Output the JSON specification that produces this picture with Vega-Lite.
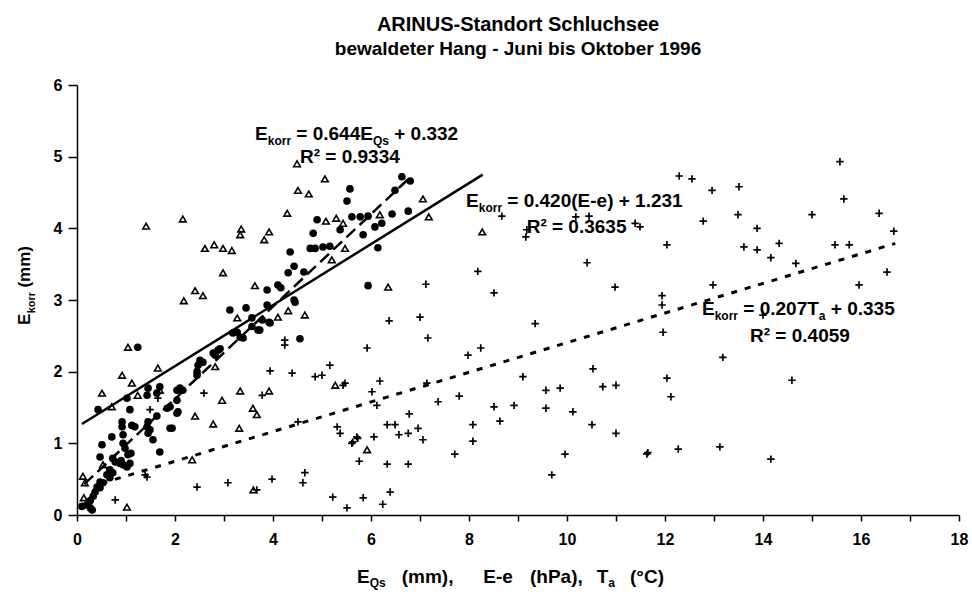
{
  "$schema": "https://vega.github.io/schema/vega-lite/v6.json",
  "width": 882,
  "height": 430,
  "autosize": {"type": "none"},
  "padding": {"left": 77, "top": 85, "right": 13, "bottom": 77},
  "background": "white",
  "config": {"view": {"stroke": null}},
  "title": {
    "text": "ARINUS-Standort Schluchsee",
    "subtitle": "bewaldeter Hang - Juni bis Oktober 1996",
    "font": "Liberation Sans",
    "fontSize": 20,
    "fontWeight": "bold",
    "color": "black",
    "subtitleFont": "Liberation Sans",
    "subtitleFontSize": 19,
    "subtitleFontWeight": "bold",
    "subtitleColor": "black",
    "subtitlePadding": 5,
    "anchor": "middle",
    "offset": 18
  },
  "datasets": {
    "points": [
      {"s":"EQs","x":0.10,"y":0.12},{"s":"EQs","x":0.20,"y":0.14},{"s":"EQs","x":0.27,"y":0.10},{"s":"EQs","x":0.27,"y":0.20},{"s":"EQs","x":0.31,"y":0.07},{"s":"EQs","x":0.33,"y":0.26},{"s":"EQs","x":0.37,"y":0.32},{"s":"EQs","x":0.41,"y":0.39},{"s":"EQs","x":0.47,"y":0.38},{"s":"EQs","x":0.47,"y":0.46},{"s":"EQs","x":0.53,"y":0.45},{"s":"EQs","x":0.61,"y":0.56},{"s":"EQs","x":0.67,"y":0.52},{"s":"EQs","x":0.67,"y":0.63},{"s":"EQs","x":0.73,"y":0.59},{"s":"EQs","x":0.73,"y":0.79},{"s":"EQs","x":0.78,"y":0.74},{"s":"EQs","x":0.88,"y":0.72},{"s":"EQs","x":0.90,"y":0.76},{"s":"EQs","x":0.94,"y":0.70},{"s":"EQs","x":1.02,"y":0.67},{"s":"EQs","x":1.04,"y":0.84},{"s":"EQs","x":1.08,"y":0.72},{"s":"EQs","x":0.47,"y":0.81},{"s":"EQs","x":0.51,"y":0.98},{"s":"EQs","x":0.94,"y":1.00},{"s":"EQs","x":0.98,"y":0.93},{"s":"EQs","x":1.10,"y":0.86},{"s":"EQs","x":0.71,"y":1.09},{"s":"EQs","x":0.92,"y":1.23},{"s":"EQs","x":0.94,"y":1.12},{"s":"EQs","x":0.92,"y":1.30},{"s":"EQs","x":1.18,"y":1.23},{"s":"EQs","x":1.12,"y":1.25},{"s":"EQs","x":1.43,"y":1.23},{"s":"EQs","x":1.45,"y":1.14},{"s":"EQs","x":1.49,"y":1.19},{"s":"EQs","x":1.45,"y":1.30},{"s":"EQs","x":1.55,"y":1.05},{"s":"EQs","x":1.69,"y":0.88},{"s":"EQs","x":1.63,"y":1.38},{"s":"EQs","x":1.90,"y":1.21},{"s":"EQs","x":1.94,"y":1.21},{"s":"EQs","x":1.84,"y":1.49},{"s":"EQs","x":1.90,"y":1.51},{"s":"EQs","x":2.04,"y":1.42},{"s":"EQs","x":2.06,"y":1.44},{"s":"EQs","x":1.08,"y":1.47},{"s":"EQs","x":0.43,"y":1.47},{"s":"EQs","x":1.02,"y":1.63},{"s":"EQs","x":1.43,"y":1.67},{"s":"EQs","x":1.45,"y":1.77},{"s":"EQs","x":1.63,"y":1.70},{"s":"EQs","x":1.69,"y":1.79},{"s":"EQs","x":2.04,"y":1.74},{"s":"EQs","x":2.10,"y":1.77},{"s":"EQs","x":2.16,"y":1.74},{"s":"EQs","x":2.04,"y":1.60},{"s":"EQs","x":1.24,"y":2.34},{"s":"EQs","x":2.45,"y":1.95},{"s":"EQs","x":2.47,"y":2.09},{"s":"EQs","x":2.57,"y":2.13},{"s":"EQs","x":2.51,"y":2.16},{"s":"EQs","x":2.45,"y":2.00},{"s":"EQs","x":2.78,"y":2.26},{"s":"EQs","x":2.82,"y":2.23},{"s":"EQs","x":2.88,"y":2.30},{"s":"EQs","x":2.92,"y":2.32},{"s":"EQs","x":3.18,"y":2.54},{"s":"EQs","x":3.27,"y":2.55},{"s":"EQs","x":3.33,"y":2.48},{"s":"EQs","x":3.39,"y":2.47},{"s":"EQs","x":3.57,"y":2.63},{"s":"EQs","x":3.69,"y":2.58},{"s":"EQs","x":3.73,"y":2.58},{"s":"EQs","x":3.94,"y":2.68},{"s":"EQs","x":3.78,"y":2.72},{"s":"EQs","x":3.92,"y":2.69},{"s":"EQs","x":3.57,"y":2.75},{"s":"EQs","x":3.12,"y":2.86},{"s":"EQs","x":3.45,"y":2.89},{"s":"EQs","x":3.88,"y":2.93},{"s":"EQs","x":4.45,"y":2.97},{"s":"EQs","x":4.43,"y":3.00},{"s":"EQs","x":3.88,"y":3.14},{"s":"EQs","x":4.10,"y":3.21},{"s":"EQs","x":4.16,"y":3.17},{"s":"EQs","x":4.55,"y":2.46},{"s":"EQs","x":4.31,"y":3.38},{"s":"EQs","x":4.63,"y":3.39},{"s":"EQs","x":4.43,"y":3.47},{"s":"EQs","x":4.35,"y":3.67},{"s":"EQs","x":4.76,"y":3.72},{"s":"EQs","x":4.86,"y":3.72},{"s":"EQs","x":5.02,"y":3.74},{"s":"EQs","x":5.16,"y":3.75},{"s":"EQs","x":4.82,"y":3.93},{"s":"EQs","x":4.90,"y":4.12},{"s":"EQs","x":5.37,"y":3.98},{"s":"EQs","x":5.51,"y":4.38},{"s":"EQs","x":5.57,"y":4.55},{"s":"EQs","x":5.61,"y":4.16},{"s":"EQs","x":5.78,"y":4.16},{"s":"EQs","x":5.94,"y":4.17},{"s":"EQs","x":5.84,"y":3.91},{"s":"EQs","x":5.94,"y":3.20},{"s":"EQs","x":6.08,"y":4.02},{"s":"EQs","x":6.22,"y":4.07},{"s":"EQs","x":6.14,"y":3.73},{"s":"EQs","x":6.43,"y":4.20},{"s":"EQs","x":6.49,"y":4.53},{"s":"EQs","x":6.76,"y":4.24},{"s":"EQs","x":6.63,"y":4.72},{"s":"EQs","x":6.80,"y":4.66},
      {"s":"Ee","x":0.12,"y":0.54},{"s":"Ee","x":0.16,"y":0.45},{"s":"Ee","x":0.14,"y":0.24},{"s":"Ee","x":0.53,"y":0.70},{"s":"Ee","x":1.02,"y":0.11},{"s":"Ee","x":0.51,"y":1.70},{"s":"Ee","x":0.71,"y":1.51},{"s":"Ee","x":0.92,"y":1.95},{"s":"Ee","x":1.12,"y":1.84},{"s":"Ee","x":1.24,"y":1.67},{"s":"Ee","x":1.69,"y":1.74},{"s":"Ee","x":1.65,"y":2.05},{"s":"Ee","x":1.04,"y":2.34},{"s":"Ee","x":2.35,"y":0.77},{"s":"Ee","x":2.41,"y":1.38},{"s":"Ee","x":2.78,"y":1.27},{"s":"Ee","x":2.96,"y":1.60},{"s":"Ee","x":3.31,"y":1.21},{"s":"Ee","x":3.33,"y":1.73},{"s":"Ee","x":3.59,"y":1.49},{"s":"Ee","x":3.67,"y":1.40},{"s":"Ee","x":3.92,"y":1.73},{"s":"Ee","x":2.82,"y":2.07},{"s":"Ee","x":3.27,"y":2.75},{"s":"Ee","x":4.10,"y":2.76},{"s":"Ee","x":4.31,"y":2.85},{"s":"Ee","x":4.65,"y":2.79},{"s":"Ee","x":5.27,"y":1.81},{"s":"Ee","x":2.18,"y":2.99},{"s":"Ee","x":2.41,"y":3.13},{"s":"Ee","x":2.57,"y":3.06},{"s":"Ee","x":3.63,"y":3.20},{"s":"Ee","x":2.98,"y":3.38},{"s":"Ee","x":2.61,"y":3.72},{"s":"Ee","x":2.80,"y":3.77},{"s":"Ee","x":2.98,"y":3.72},{"s":"Ee","x":3.16,"y":3.69},{"s":"Ee","x":3.35,"y":3.99},{"s":"Ee","x":3.33,"y":3.91},{"s":"Ee","x":3.92,"y":3.95},{"s":"Ee","x":3.82,"y":3.84},{"s":"Ee","x":1.41,"y":4.03},{"s":"Ee","x":2.16,"y":4.13},{"s":"Ee","x":4.29,"y":4.21},{"s":"Ee","x":4.49,"y":4.90},{"s":"Ee","x":4.51,"y":4.53},{"s":"Ee","x":4.73,"y":4.48},{"s":"Ee","x":5.06,"y":4.69},{"s":"Ee","x":5.08,"y":4.10},{"s":"Ee","x":5.29,"y":4.14},{"s":"Ee","x":5.47,"y":3.72},{"s":"Ee","x":5.20,"y":3.56},{"s":"Ee","x":5.43,"y":4.07},{"s":"Ee","x":6.18,"y":4.19},{"s":"Ee","x":7.06,"y":4.41},{"s":"Ee","x":7.18,"y":4.16},{"s":"Ee","x":8.27,"y":3.95},{"s":"Ee","x":6.35,"y":3.18},{"s":"Ee","x":5.92,"y":0.91},{"s":"Ee","x":3.60,"y":0.35},
      {"s":"Ta","x":0.78,"y":0.21},{"s":"Ta","x":1.39,"y":0.56},{"s":"Ta","x":1.43,"y":0.53},{"s":"Ta","x":1.49,"y":1.47},{"s":"Ta","x":1.65,"y":1.63},{"s":"Ta","x":2.59,"y":1.70},{"s":"Ta","x":2.45,"y":0.39},{"s":"Ta","x":3.08,"y":0.45},{"s":"Ta","x":3.67,"y":0.35},{"s":"Ta","x":3.98,"y":0.50},{"s":"Ta","x":4.65,"y":0.59},{"s":"Ta","x":4.61,"y":0.45},{"s":"Ta","x":5.22,"y":0.25},{"s":"Ta","x":5.51,"y":0.10},{"s":"Ta","x":3.78,"y":1.67},{"s":"Ta","x":3.94,"y":2.01},{"s":"Ta","x":4.24,"y":2.44},{"s":"Ta","x":4.24,"y":2.37},{"s":"Ta","x":4.39,"y":1.98},{"s":"Ta","x":4.86,"y":1.93},{"s":"Ta","x":5.00,"y":1.95},{"s":"Ta","x":5.16,"y":2.09},{"s":"Ta","x":5.43,"y":1.81},{"s":"Ta","x":4.51,"y":1.30},{"s":"Ta","x":5.31,"y":1.23},{"s":"Ta","x":5.37,"y":1.14},{"s":"Ta","x":5.61,"y":1.00},{"s":"Ta","x":5.71,"y":1.09},{"s":"Ta","x":5.47,"y":1.84},{"s":"Ta","x":6.18,"y":1.87},{"s":"Ta","x":6.02,"y":1.72},{"s":"Ta","x":6.12,"y":1.53},{"s":"Ta","x":7.37,"y":1.58},{"s":"Ta","x":7.80,"y":1.66},{"s":"Ta","x":7.14,"y":1.84},{"s":"Ta","x":6.78,"y":1.41},{"s":"Ta","x":6.33,"y":1.26},{"s":"Ta","x":6.49,"y":1.26},{"s":"Ta","x":6.57,"y":1.12},{"s":"Ta","x":6.76,"y":1.14},{"s":"Ta","x":6.96,"y":1.21},{"s":"Ta","x":7.06,"y":1.05},{"s":"Ta","x":6.06,"y":1.09},{"s":"Ta","x":5.63,"y":1.02},{"s":"Ta","x":5.73,"y":1.07},{"s":"Ta","x":5.76,"y":0.75},{"s":"Ta","x":6.33,"y":0.71},{"s":"Ta","x":6.76,"y":0.71},{"s":"Ta","x":7.71,"y":0.85},{"s":"Ta","x":8.08,"y":1.26},{"s":"Ta","x":8.08,"y":1.03},{"s":"Ta","x":8.51,"y":1.51},{"s":"Ta","x":8.63,"y":1.31},{"s":"Ta","x":8.92,"y":1.53},{"s":"Ta","x":9.10,"y":1.93},{"s":"Ta","x":9.35,"y":2.67},{"s":"Ta","x":9.57,"y":1.74},{"s":"Ta","x":9.86,"y":1.77},{"s":"Ta","x":9.57,"y":1.49},{"s":"Ta","x":10.12,"y":1.44},{"s":"Ta","x":10.51,"y":1.26},{"s":"Ta","x":10.53,"y":2.04},{"s":"Ta","x":10.73,"y":1.79},{"s":"Ta","x":11.00,"y":1.81},{"s":"Ta","x":11.00,"y":1.14},{"s":"Ta","x":9.96,"y":0.85},{"s":"Ta","x":9.69,"y":0.56},{"s":"Ta","x":11.63,"y":0.85},{"s":"Ta","x":10.41,"y":3.52},{"s":"Ta","x":10.98,"y":3.18},{"s":"Ta","x":6.39,"y":0.32},{"s":"Ta","x":6.24,"y":0.15},{"s":"Ta","x":5.84,"y":0.24},{"s":"Ta","x":8.67,"y":4.17},{"s":"Ta","x":8.18,"y":3.40},{"s":"Ta","x":8.51,"y":3.10},{"s":"Ta","x":7.12,"y":3.22},{"s":"Ta","x":6.37,"y":2.71},{"s":"Ta","x":7.00,"y":2.76},{"s":"Ta","x":7.16,"y":2.47},{"s":"Ta","x":5.92,"y":2.33},{"s":"Ta","x":7.98,"y":2.23},{"s":"Ta","x":8.24,"y":2.33},{"s":"Ta","x":10.18,"y":4.16},{"s":"Ta","x":10.45,"y":4.17},{"s":"Ta","x":11.39,"y":4.07},{"s":"Ta","x":9.18,"y":3.98},{"s":"Ta","x":9.16,"y":3.88},{"s":"Ta","x":11.49,"y":4.02},{"s":"Ta","x":12.29,"y":4.73},{"s":"Ta","x":12.55,"y":4.69},{"s":"Ta","x":12.96,"y":4.53},{"s":"Ta","x":13.51,"y":4.58},{"s":"Ta","x":15.57,"y":4.93},{"s":"Ta","x":12.78,"y":4.10},{"s":"Ta","x":13.49,"y":4.19},{"s":"Ta","x":13.88,"y":4.00},{"s":"Ta","x":12.04,"y":3.77},{"s":"Ta","x":13.61,"y":3.74},{"s":"Ta","x":13.88,"y":3.70},{"s":"Ta","x":14.16,"y":3.59},{"s":"Ta","x":14.33,"y":3.79},{"s":"Ta","x":15.00,"y":4.19},{"s":"Ta","x":15.65,"y":4.41},{"s":"Ta","x":16.37,"y":4.21},{"s":"Ta","x":16.67,"y":3.96},{"s":"Ta","x":15.47,"y":3.77},{"s":"Ta","x":15.76,"y":3.77},{"s":"Ta","x":14.67,"y":3.51},{"s":"Ta","x":12.98,"y":3.21},{"s":"Ta","x":11.94,"y":3.06},{"s":"Ta","x":11.94,"y":2.93},{"s":"Ta","x":14.00,"y":2.79},{"s":"Ta","x":16.53,"y":3.39},{"s":"Ta","x":15.96,"y":3.21},{"s":"Ta","x":11.96,"y":2.55},{"s":"Ta","x":13.18,"y":2.20},{"s":"Ta","x":12.04,"y":1.91},{"s":"Ta","x":12.12,"y":1.65},{"s":"Ta","x":14.59,"y":1.88},{"s":"Ta","x":11.65,"y":0.87},{"s":"Ta","x":12.27,"y":0.92},{"s":"Ta","x":13.12,"y":0.95},{"s":"Ta","x":14.16,"y":0.78}
    ],
    "lines": [
      {"s":"Ee","x":0.10,"y":1.27},{"s":"Ee","x":8.28,"y":4.75},
      {"s":"EQs","x":0.15,"y":0.43},{"s":"EQs","x":6.75,"y":4.68},
      {"s":"Ta","x":0.50,"y":0.44},{"s":"Ta","x":16.70,"y":3.79}
    ],
    "labels": [
      {"r":"main","x":3.633,"y":5.232,"t":"E"},
      {"r":"sub","x":3.892,"y":5.232,"t":"korr"},
      {"r":"main","x":4.476,"y":5.232,"t":"= 0.644E"},
      {"r":"sub","x":6.039,"y":5.232,"t":"Qs"},
      {"r":"main","x":6.474,"y":5.232,"t":"+ 0.332"},
      {"r":"main","x":4.551,"y":4.907,"t":"R² = 0.9334"},
      {"r":"main","x":7.939,"y":4.302,"t":"E"},
      {"r":"sub","x":8.198,"y":4.302,"t":"korr"},
      {"r":"main","x":8.782,"y":4.302,"t":"= 0.420(E-e) + 1.231"},
      {"r":"main","x":9.177,"y":3.930,"t":"R² = 0.3635"},
      {"r":"main","x":12.755,"y":2.791,"t":"E"},
      {"r":"sub","x":13.014,"y":2.791,"t":"korr"},
      {"r":"main","x":13.598,"y":2.791,"t":"= 0.207T"},
      {"r":"sub","x":15.139,"y":2.791,"t":"a"},
      {"r":"main","x":15.384,"y":2.791,"t":"+ 0.335"},
      {"r":"main","x":13.735,"y":2.418,"t":"R² = 0.4059"},
      {"r":"xmain","x":5.714,"y":-0.955,"t":"E"},
      {"r":"xsub","x":5.973,"y":-0.955,"t":"Qs"},
      {"r":"xmain","x":6.627,"y":-0.955,"t":"(mm),"},
      {"r":"xmain","x":8.292,"y":-0.955,"t":"E-e"},
      {"r":"xmain","x":9.245,"y":-0.955,"t":"(hPa),"},
      {"r":"xmain","x":10.606,"y":-0.955,"t":"T"},
      {"r":"xsub","x":10.843,"y":-0.955,"t":"a"},
      {"r":"xmain","x":11.286,"y":-0.955,"t":"(°C)"},
      {"r":"ymain","x":-0.959,"y":2.651,"t":"E"},
      {"r":"ysub","x":-0.959,"y":2.815,"t":"korr"},
      {"r":"ymain","x":-0.959,"y":3.173,"t":"(mm)"}
    ]
  },
  "encoding": {
    "x": {
      "field": "x", "type": "quantitative",
      "scale": {"domain": [0, 18], "nice": false, "zero": false},
      "axis": {
        "title": null, "grid": false,
        "values": [0,1,2,3,4,5,6,7,8,9,10,11,12,13,14,15,16,17,18],
        "labelExpr": "datum.value % 2 == 0 ? datum.label : ''",
        "format": "d",
        "labelOverlap": false, "labelFlush": false,
        "domainColor": "black", "domainWidth": 1.5,
        "tickColor": "black", "tickWidth": 1.5, "tickSize": 6,
        "labelColor": "black", "labelFont": "Liberation Sans", "labelFontSize": 16, "labelFontWeight": "bold",
        "labelPadding": 10
      }
    },
    "y": {
      "field": "y", "type": "quantitative",
      "scale": {"domain": [0, 6], "nice": false, "zero": false},
      "axis": {
        "title": null, "grid": false,
        "values": [0,1,2,3,4,5,6],
        "format": "d",
        "labelOverlap": false, "labelFlush": false,
        "domainColor": "black", "domainWidth": 1.5,
        "tickColor": "black", "tickWidth": 1.5, "tickSize": 9,
        "labelColor": "black", "labelFont": "Liberation Sans", "labelFontSize": 16, "labelFontWeight": "bold",
        "labelPadding": 6
      }
    }
  },
  "layer": [
    {
      "data": {"name": "points"},
      "transform": [{"filter": "datum.s == 'Ta'"}],
      "mark": {"type": "point", "shape": "M-1,0H1M0,-1V1", "filled": false, "stroke": "black", "strokeWidth": 1.7, "size": 55, "opacity": 1}
    },
    {
      "data": {"name": "points"},
      "transform": [{"filter": "datum.s == 'Ee'"}],
      "mark": {"type": "point", "shape": "triangle-up", "filled": false, "stroke": "black", "strokeWidth": 1.6, "size": 44, "opacity": 1}
    },
    {
      "data": {"name": "points"},
      "transform": [{"filter": "datum.s == 'EQs'"}],
      "mark": {"type": "circle", "color": "black", "size": 58, "opacity": 1}
    },
    {
      "data": {"name": "lines"},
      "transform": [{"filter": "datum.s == 'Ee'"}],
      "mark": {"type": "line", "color": "black", "strokeWidth": 2.5}
    },
    {
      "data": {"name": "lines"},
      "transform": [{"filter": "datum.s == 'EQs'"}],
      "mark": {"type": "line", "color": "black", "strokeWidth": 2.5, "strokeDash": [12, 6]}
    },
    {
      "data": {"name": "lines"},
      "transform": [{"filter": "datum.s == 'Ta'"}],
      "mark": {"type": "line", "color": "black", "strokeWidth": 3, "strokeDash": [6, 8]}
    },
    {
      "data": {"name": "labels"},
      "transform": [{"filter": "datum.r == 'main'"}],
      "mark": {"type": "text", "align": "left", "baseline": "alphabetic", "font": "Liberation Sans", "fontWeight": "bold", "fontSize": 19, "color": "black"},
      "encoding": {"text": {"field": "t"}}
    },
    {
      "data": {"name": "labels"},
      "transform": [{"filter": "datum.r == 'sub'"}],
      "mark": {"type": "text", "align": "left", "baseline": "alphabetic", "font": "Liberation Sans", "fontWeight": "bold", "fontSize": 12, "dy": 5, "color": "black"},
      "encoding": {"text": {"field": "t"}}
    },
    {
      "data": {"name": "labels"},
      "transform": [{"filter": "datum.r == 'xmain'"}],
      "mark": {"type": "text", "align": "left", "baseline": "alphabetic", "font": "Liberation Sans", "fontWeight": "bold", "fontSize": 19, "color": "black"},
      "encoding": {"text": {"field": "t"}}
    },
    {
      "data": {"name": "labels"},
      "transform": [{"filter": "datum.r == 'xsub'"}],
      "mark": {"type": "text", "align": "left", "baseline": "alphabetic", "font": "Liberation Sans", "fontWeight": "bold", "fontSize": 12, "dy": 4, "color": "black"},
      "encoding": {"text": {"field": "t"}}
    },
    {
      "data": {"name": "labels"},
      "transform": [{"filter": "datum.r == 'ymain'"}],
      "mark": {"type": "text", "align": "left", "baseline": "alphabetic", "angle": 270, "font": "Liberation Sans", "fontWeight": "bold", "fontSize": 17, "color": "black"},
      "encoding": {"text": {"field": "t"}}
    },
    {
      "data": {"name": "labels"},
      "transform": [{"filter": "datum.r == 'ysub'"}],
      "mark": {"type": "text", "align": "left", "baseline": "alphabetic", "angle": 270, "font": "Liberation Sans", "fontWeight": "bold", "fontSize": 11, "dy": 5, "color": "black"},
      "encoding": {"text": {"field": "t"}}
    }
  ]
}
